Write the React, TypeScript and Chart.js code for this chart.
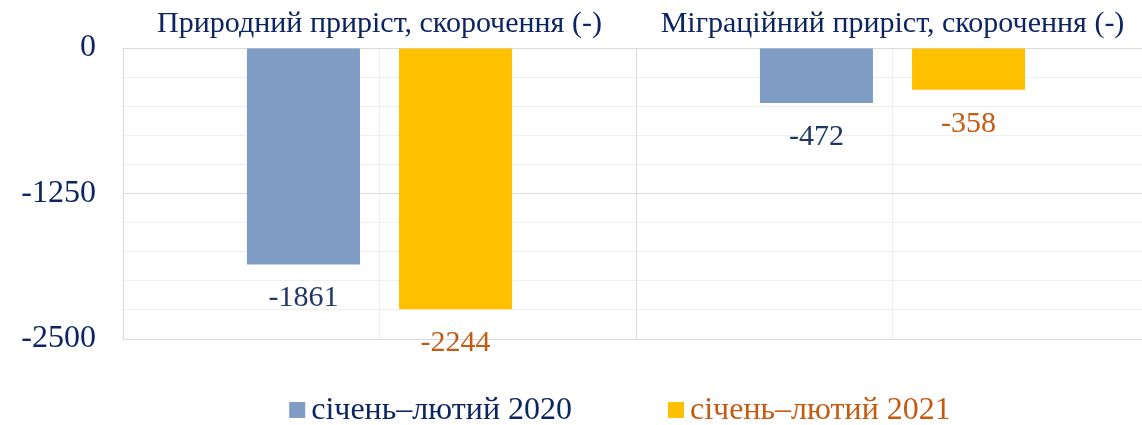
import React, { useEffect, useRef } from "react";
import { Chart, registerables } from "chart.js";

Chart.register(...registerables);

const categories = ["Природний приріст, скорочення (-)", "Міграційний приріст, скорочення (-)"];
const seriesNames = ["січень–лютий 2020", "січень–лютий 2021"];
const values2020 = [-1861, -472];
const values2021 = [-2244, -358];
const yTickLabels = [0, -1250, -2500];

const DARK_BLUE = "#0C2461";
const NAVY = "#1F3864";
const ORANGE = "#C55A11";
const BLUE = "#7F9CC5";
const GOLD = "#FFC000";
const FONT = "'Liberation Serif', 'Times New Roman', serif";
const valueColors = [NAVY, ORANGE];
const legendColors = [DARK_BLUE, ORANGE];

const valueLabels = {
  id: "valueLabels",
  afterDatasetsDraw(chart: any) {
    const ctx = chart.ctx;
    ctx.save();
    ctx.font = `30px ${FONT}`;
    ctx.textAlign = "center";
    ctx.textBaseline = "middle";
    chart.data.datasets.forEach((ds: any, di: number) => {
      const meta = chart.getDatasetMeta(di);
      meta.data.forEach((el: any, i: number) => {
        ctx.fillStyle = valueColors[di];
        ctx.fillText(String(ds.data[i]), el.x, el.y + 34);
      });
    });
    ctx.restore();
  },
};

const bottomLegend = {
  id: "bottomLegend",
  afterDraw(chart: any) {
    const ctx = chart.ctx;
    const area = chart.chartArea;
    ctx.save();
    ctx.font = `32px ${FONT}`;
    ctx.textBaseline = "middle";
    ctx.textAlign = "left";
    const box = 16;
    const gap = 6;
    const itemGap = 96;
    const widths = chart.data.datasets.map((ds: any) => box + gap + ctx.measureText(ds.label).width);
    const total = widths.reduce((a: number, b: number) => a + b, 0) + itemGap * (widths.length - 1);
    let x = (area.left + area.right) / 2 - 16 - total / 2;
    const cy = area.bottom + 71;
    chart.data.datasets.forEach((ds: any, i: number) => {
      ctx.fillStyle = ds.backgroundColor;
      ctx.fillRect(x, cy - box / 2, box, box);
      ctx.fillStyle = legendColors[i];
      ctx.fillText(ds.label, x + box + gap, cy + 1);
      x += widths[i] + itemGap;
    });
    ctx.restore();
  },
};

export default function App() {
  const ref = useRef<HTMLCanvasElement | null>(null);

  useEffect(() => {
    if (!ref.current) return;
    const chart = new Chart(ref.current, {
      type: "bar",
      data: {
        labels: categories,
        datasets: [
          { label: seriesNames[0], data: values2020, backgroundColor: BLUE, categoryPercentage: 0.593, barPercentage: 0.743 },
          { label: seriesNames[1], data: values2021, backgroundColor: GOLD, categoryPercentage: 0.593, barPercentage: 0.743 },
        ],
      },
      options: {
        animation: false,
        responsive: false,
        maintainAspectRatio: false,
        layout: { padding: { top: 2, bottom: 86, left: 0, right: 0 } },
        plugins: {
          legend: { display: false },
          tooltip: { enabled: false },
        },
        scales: {
          x: {
            position: "top",
            offset: true,
            grid: { offset: true, color: "#D9D9D9", drawTicks: false },
            border: { display: true, color: "#D9D9D9" },
            ticks: { color: DARK_BLUE, font: { family: FONT, size: 30, lineHeight: 1.2 }, padding: 6, maxRotation: 0 },
            afterFit: (scale: any) => {
              scale.height = 46;
            },
          },
          x2: {
            position: "bottom",
            type: "category",
            offset: true,
            grid: { offset: false, color: "#EDEDED", drawTicks: false },
            border: { display: false },
            ticks: { display: false },
          },
          y: {
            min: -2500,
            max: 0,
            afterFit: (scale: any) => {
              scale.width = 123;
            },
            ticks: {
              stepSize: 250,
              autoSkip: false,
              color: DARK_BLUE,
              font: { family: FONT, size: 32 },
              padding: 27,
              callback: (v: any) => (yTickLabels.includes(Number(v)) ? String(v) : ""),
            },
            grid: {
              drawTicks: false,
              color: (c: any) => (c.tick && Math.abs(c.tick.value) % 1250 === 0 ? "#D9D9D9" : "#EFEFEF"),
            },
            border: { display: true, color: "#D9D9D9" },
          },
        },
      },
      plugins: [valueLabels, bottomLegend],
    } as any);
    return () => chart.destroy();
  }, []);

  return (
    <div style={{ position: "fixed", left: 0, top: 0, width: 1142, height: 425, overflow: "hidden", background: "#fff" }}>
      <canvas ref={ref} width={1149} height={425} style={{ width: 1149, height: 425, display: "block" }} />
    </div>
  );
}
